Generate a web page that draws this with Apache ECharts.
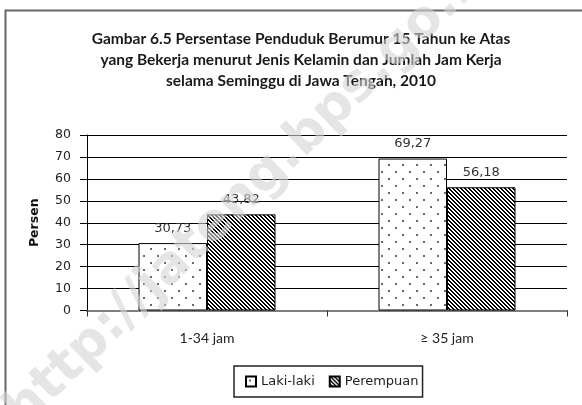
<!DOCTYPE html>
<html>
<head>
<meta charset="utf-8">
<script src="https://cdn.jsdelivr.net/npm/echarts@6/dist/echarts.min.js"></script>
<style>
  html, body { margin: 0; padding: 0; background: #fff; }
  #chart { width: 582px; height: 405px; }
</style>
</head>
<body>
<div id="chart"></div>
<script>
// Chart text and values
const titleLines = [
  'Gambar 6.5 Persentase Penduduk Berumur 15 Tahun ke Atas',
  'yang Bekerja menurut Jenis Kelamin dan Jumlah Jam Kerja',
  'selama Seminggu di Jawa Tengah, 2010'
];
const categories = ['1-34 jam', '\u2265 35 jam'];
const seriesNames = ['Laki-laki', 'Perempuan'];
const lakiLaki = [30.73, 69.27];
const perempuan = [43.82, 56.18];
const yTickLabels = [0, 10, 20, 30, 40, 50, 60, 70, 80];
const yAxisName = 'Persen';
const watermarkText = 'http://jateng.bps.go.id';

// Fill patterns: sparse dots and diagonal hatching
function dotPattern() {
  const c = document.createElement('canvas');
  c.width = 14; c.height = 14;
  const g = c.getContext('2d');
  g.fillStyle = '#fff';
  g.fillRect(0, 0, 14, 14);
  g.fillStyle = '#6a6a6a';
  g.fillRect(3, 3, 2, 2);
  g.fillRect(10, 10, 2, 2);
  return c;
}
function hatchPattern() {
  const n = 4;
  const c = document.createElement('canvas');
  c.width = n; c.height = n;
  const g = c.getContext('2d');
  const img = g.createImageData(n, n);
  for (let y = 0; y < n; y++) {
    for (let x = 0; x < n; x++) {
      const dark = (((x - y) % n) + n) % n < 2;
      const v = dark ? 0 : 255;
      const i = (y * n + x) * 4;
      img.data[i] = v; img.data[i + 1] = v; img.data[i + 2] = v; img.data[i + 3] = 255;
    }
  }
  g.putImageData(img, 0, 0);
  return c;
}

const fmt = p => p.value.toFixed(2).replace('.', ',');
const labelStyle = {
  show: true,
  position: 'top',
  distance: 8,
  fontFamily: 'DejaVu Sans',
  fontSize: 13,
  color: '#333',
  formatter: fmt
};

const chart = echarts.init(document.getElementById('chart'), null, { renderer: 'canvas' });
chart.setOption({
  backgroundColor: '#fff',
  animation: false,
  title: {
    text: titleLines.join('\n'),
    left: 301,
    top: 28,
    textAlign: 'center',
    padding: 0,
    textStyle: {
      fontFamily: 'Lato',
      fontWeight: 'bold',
      fontSize: 15.5,
      lineHeight: 21,
      color: '#1a1a1a'
    }
  },
  legend: {
    data: seriesNames,
    left: 234,
    top: 366,
    orient: 'horizontal',
    padding: [9, 4, 9, 11],
    itemWidth: 10,
    itemHeight: 10,
    itemGap: 14,
    icon: 'rect',
    borderColor: '#222',
    borderWidth: 1.5,
    textStyle: { fontFamily: 'DejaVu Sans', fontSize: 13, color: '#222' }
  },
  grid: { left: 87, right: 15, top: 135, bottom: 94.5 },
  xAxis: {
    type: 'category',
    data: categories,
    axisLine: { show: true, lineStyle: { color: '#7f7f7f', width: 2 } },
    axisTick: { show: true, length: 6, alignWithLabel: false, lineStyle: { color: '#333', width: 1 } },
    axisLabel: { margin: 21, fontFamily: 'Lato', fontSize: 14, color: '#222' },
    splitLine: { show: false }
  },
  yAxis: {
    type: 'value',
    min: yTickLabels[0],
    max: yTickLabels[yTickLabels.length - 1],
    interval: yTickLabels[1] - yTickLabels[0],
    name: yAxisName,
    nameLocation: 'middle',
    nameRotate: 90,
    nameGap: 46,
    nameTextStyle: { fontFamily: 'DejaVu Sans', fontWeight: 'bold', fontSize: 12.5, color: '#111' },
    axisLine: { show: true, lineStyle: { color: '#000', width: 1 } },
    axisTick: { show: true, length: 7, lineStyle: { color: '#000', width: 1 } },
    axisLabel: { margin: 16, fontFamily: 'DejaVu Sans', fontSize: 12.5, color: '#222' },
    splitLine: { show: true, lineStyle: { color: '#000', width: 1 } }
  },
  series: [
    {
      name: seriesNames[0],
      type: 'bar',
      data: lakiLaki,
      barWidth: 68.5,
      barGap: '0%',
      itemStyle: { color: { image: dotPattern(), repeat: 'repeat' }, borderColor: '#000', borderWidth: 1 },
      label: labelStyle
    },
    {
      name: seriesNames[1],
      type: 'bar',
      data: perempuan,
      barWidth: 68.5,
      barGap: '0%',
      itemStyle: { color: { image: hatchPattern(), repeat: 'repeat' }, borderColor: '#000', borderWidth: 1 },
      label: labelStyle
    }
  ],
  graphic: [
    {
      type: 'rect',
      silent: true,
      z: -1,
      shape: { x: 5.5, y: 10.5, width: 700, height: 500 },
      style: { fill: 'none', stroke: '#666', lineWidth: 2 }
    },
    {
      type: 'text',
      silent: true,
      z: 100,
      x: 14,
      y: 419,
      rotation: 44 * Math.PI / 180,
      style: {
        text: watermarkText,
        fontFamily: 'DejaVu Sans',
        fontWeight: 'bold',
        fontSize: 52,
        fill: 'rgba(212,212,212,0.6)',
        align: 'left',
        verticalAlign: 'middle'
      }
    }
  ]
});
</script>
</body>
</html>
